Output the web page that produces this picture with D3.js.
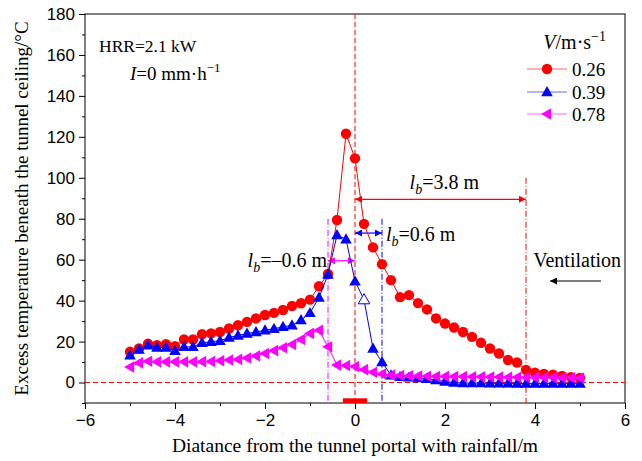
<!DOCTYPE html>
<html>
<head>
<meta charset="utf-8">
<script src="https://cdn.jsdelivr.net/npm/d3@7"></script>
<style>
  body { margin: 0; background: #fff; }
  svg { display: block; }
</style>
</head>
<body>
<svg id="chart"></svg>
<script>
// Distance from the portal (m), shared by all three series
var dist = [-5, -4.8, -4.6, -4.4, -4.2, -4, -3.8, -3.6, -3.4, -3.2, -3, -2.8, -2.6, -2.4, -2.2, -2,
  -1.8, -1.6, -1.4, -1.2, -1, -0.8, -0.6, -0.4, -0.2, 0, 0.2, 0.4, 0.6, 0.8, 1, 1.2, 1.4, 1.6,
  1.8, 2, 2.2, 2.4, 2.6, 2.8, 3, 3.2, 3.4, 3.6, 3.8, 4, 4.2, 4.4, 4.6, 4.8, 5];

// Excess temperature (°C) per ventilation velocity
var v026 = [15, 16.6, 19, 18.2, 18.7, 17.7, 21, 21, 23.6, 24, 24.7, 26.4, 28, 29.6, 31.3, 33,
  34, 35.4, 37.4, 38.7, 40.5, 47, 53, 79.4, 121.5, 109.5, 77.5, 66, 57.8, 50, 41.7, 42.7, 38.8, 35.7,
  31.3, 28.8, 26.9, 24.7, 22.3, 19.4, 16.6, 14.2, 11, 9.8, 6.2, 4.8, 4.2, 3.8, 3.2, 2.6, 2.2];
var v039 = [13.3, 16.1, 18.2, 17.1, 17.1, 15.5, 17.4, 17.4, 19.4, 19.9, 20.4, 22, 23, 23.9, 24.7, 25.5,
  26.3, 27.2, 28, 30.5, 34, 41.5, 52.8, 72, 70, 49.5, 40.5, 16.6, 10, 3.5, 2.8, 2.5, 2.2, 1.8,
  1.2, 0.5, 0, -0.2, -0.3, -0.3, -0.4, -0.4, -0.4, -0.5, -0.5, -0.5, -0.5, -0.5, -0.5, -0.5, -0.5];
var v078 = [7.6, 9.6, 10.4, 10.1, 10.1, 10.1, 10.1, 10.1, 10.2, 10.3, 10.6, 11, 11.3, 12, 13, 14.2,
  15.6, 17, 18.6, 21, 24, 25.5, 17.5, 8.5, 8.3, 7.8, 6.3, 5, 4.2, 3.6, 3.4, 3.3, 3.2, 3.1,
  3, 3, 2.9, 2.9, 2.8, 2.8, 2.7, 2.7, 2.6, 2.6, 2.5, 2.5, 2.4, 2.4, 2.3, 2.3, 2.2];
var hollow039 = [0.2];   // open-marker point of the 0.39 series

var legendLabels = ["0.26", "0.39", "0.78"];
var xTicks = [-6, -4, -2, 0, 2, 4, 6];
var yTicks = [0, 20, 40, 60, 80, 100, 120, 140, 160, 180];

// Backflow length lines: [x, top value]
var lbLines = [[-0.6, 80], [0.6, 80], [3.8, 100]];

var width = 642, height = 461;
var pLeft = 85, pRight = 625, pTop = 14, pBottom = 403;
var serif = "'Liberation Serif', 'Times New Roman', serif";
var sans = "'Liberation Sans', Arial, sans-serif";

var svg = d3.select("#chart").attr("width", width).attr("height", height);

var x = d3.scaleLinear().domain([-6, 6]).range([pLeft, pRight]);
var y = d3.scaleLinear().domain([-10, 180]).range([pBottom, pTop]);

// axes
var xAxis = svg.append("g")
  .attr("transform", "translate(0," + pBottom + ")")
  .call(d3.axisBottom(x).tickValues(xTicks).tickSize(6).tickPadding(5).tickFormat(d3.format("d")));
var xMinor = svg.append("g")
  .attr("transform", "translate(0," + pBottom + ")")
  .call(d3.axisBottom(x).tickValues([-5, -3, -1, 1, 3, 5]).tickSize(3).tickFormat(""));
var yAxis = svg.append("g")
  .attr("transform", "translate(" + pLeft + ",0)")
  .call(d3.axisLeft(y).tickValues(yTicks).tickSize(6).tickPadding(4));
var yMinor = svg.append("g")
  .attr("transform", "translate(" + pLeft + ",0)")
  .call(d3.axisLeft(y).tickValues([-10, 10, 30, 50, 70, 90, 110, 130, 150, 170]).tickSize(3).tickFormat(""));

[xAxis, xMinor, yAxis, yMinor].forEach(function(g) {
  g.select(".domain").remove();
  g.selectAll("line").attr("stroke", "#000").attr("stroke-width", 1);
  g.selectAll("text").attr("fill", "#000").style("font-family", sans).style("font-size", "17px");
});

// frame
svg.append("rect")
  .attr("x", pLeft).attr("y", pTop)
  .attr("width", pRight - pLeft).attr("height", pBottom - pTop)
  .attr("fill", "none").attr("stroke", "#000").attr("stroke-width", 1);

// reference lines
svg.append("line")
  .attr("x1", x(-6)).attr("x2", x(6)).attr("y1", y(0)).attr("y2", y(0))
  .attr("stroke", "#ff0000").attr("stroke-dasharray", "5,3");
svg.append("line")
  .attr("x1", x(0)).attr("x2", x(0)).attr("y1", pTop).attr("y2", pBottom)
  .attr("stroke", "#ff0000").attr("stroke-dasharray", "5,3");

var lbColors = ["#ff00ff", "#0000ff", "#ff0000"];
lbLines.forEach(function(d, i) {
  svg.append("line")
    .attr("x1", x(d[0])).attr("x2", x(d[0])).attr("y1", y(d[1])).attr("y2", pBottom)
    .attr("stroke", lbColors[i]).attr("stroke-dasharray", "6,2,1,2");
});

// fire source bar
svg.append("rect")
  .attr("x", x(-0.27)).attr("width", x(0.27) - x(-0.27))
  .attr("y", y(-7.7)).attr("height", y(-10) - y(-7.7))
  .attr("fill", "#ff0000");

// arrow markers
var defs = svg.append("defs");
lbColors.concat(["#000"]).forEach(function(c, i) {
  defs.append("marker")
    .attr("id", "ah" + i)
    .attr("viewBox", "0 0 10 10")
    .attr("refX", 10).attr("refY", 5)
    .attr("markerWidth", 10).attr("markerHeight", 7)
    .attr("markerUnits", "userSpaceOnUse")
    .attr("orient", "auto-start-reverse")
    .append("path").attr("d", "M0,0L10,5L0,10z").attr("fill", c);
});

var arrows = [[-0.6, 0, 59.5, 0], [0, 0.6, 73, 1], [0, 3.8, 89.5, 2]];
arrows.forEach(function(a) {
  svg.append("line")
    .attr("x1", x(a[0])).attr("x2", x(a[1])).attr("y1", y(a[2])).attr("y2", y(a[2]))
    .attr("stroke", lbColors[a[3]]).attr("stroke-width", 1.2)
    .attr("marker-start", "url(#ah" + a[3] + ")")
    .attr("marker-end", "url(#ah" + a[3] + ")");
});

// series
var series = [
  {vals: v026, color: "#ff0000", shape: "circle"},
  {vals: v039, color: "#0000ff", shape: "up"},
  {vals: v078, color: "#ff00ff", shape: "left"}
];

function markerPath(shape) {
  if (shape === "up") return "M0,-6L5.8,4.2L-5.8,4.2Z";
  if (shape === "left") return "M-6,0L4.2,-5.8L4.2,5.8Z";
  return null;
}

var line = d3.line()
  .x(function(d) { return x(d[0]); })
  .y(function(d) { return y(d[1]); });

series.forEach(function(s) {
  var pts = dist.map(function(d, i) { return [d, s.vals[i]]; });
  svg.append("path")
    .attr("d", line(pts))
    .attr("fill", "none")
    .attr("stroke", s.color)
    .attr("stroke-width", 1);

  var g = svg.append("g");
  pts.forEach(function(p) {
    var hollow = s.shape === "up" && hollow039.indexOf(p[0]) >= 0;
    if (s.shape === "circle") {
      g.append("circle")
        .attr("cx", x(p[0])).attr("cy", y(p[1])).attr("r", 5.2)
        .attr("fill", s.color);
    } else {
      g.append("path")
        .attr("d", markerPath(s.shape))
        .attr("transform", "translate(" + x(p[0]) + "," + y(p[1]) + ")")
        .attr("fill", hollow ? "#fff" : s.color)
        .attr("stroke", s.color)
        .attr("stroke-width", hollow ? 1 : 0);
    }
  });
});

// legend
var legX = 547, legY = [69, 92, 114];
svg.append("text")
  .attr("x", 606).attr("y", 49)
  .attr("text-anchor", "end")
  .style("font-family", serif).style("font-size", "20px")
  .call(function(t) {
    t.append("tspan").attr("font-style", "italic").text("V");
    t.append("tspan").text("/m·s");
    t.append("tspan").attr("dy", -8).style("font-size", "14px").text("−1");
  });

series.forEach(function(s, i) {
  var gy = legY[i];
  svg.append("line")
    .attr("x1", legX - 20).attr("x2", legX + 20).attr("y1", gy).attr("y2", gy)
    .attr("stroke", s.color).attr("stroke-width", 1.2).attr("opacity", 0.6);
  if (s.shape === "circle") {
    svg.append("circle").attr("cx", legX).attr("cy", gy).attr("r", 5.2).attr("fill", s.color);
  } else {
    svg.append("path").attr("d", markerPath(s.shape))
      .attr("transform", "translate(" + legX + "," + gy + ")")
      .attr("fill", s.color);
  }
  svg.append("text")
    .attr("x", legX + 25).attr("y", gy + 7)
    .style("font-family", serif).style("font-size", "19px")
    .text(legendLabels[i]);
});

// condition labels
svg.append("text")
  .attr("x", 99).attr("y", 52)
  .style("font-family", serif).style("font-size", "17.5px")
  .text("HRR=2.1 kW");
svg.append("text")
  .attr("x", 130).attr("y", 80)
  .style("font-family", serif).style("font-size", "19px")
  .call(function(t) {
    t.append("tspan").attr("font-style", "italic").text("I");
    t.append("tspan").text("=0 mm·h");
    t.append("tspan").attr("dy", -8).style("font-size", "13px").text("−1");
  });

// lb labels
function lbLabel(px, py, value, anchor) {
  svg.append("text")
    .attr("x", px).attr("y", py)
    .attr("text-anchor", anchor)
    .style("font-family", serif).style("font-size", "20px")
    .call(function(t) {
      t.append("tspan").attr("font-style", "italic").text("l");
      t.append("tspan").attr("font-style", "italic").attr("dy", 5).style("font-size", "14px").text("b");
      t.append("tspan").attr("dy", -5).text("=" + value + " m");
    });
}
lbLabel(x(3.8) - 47, y(90) - 9, "3.8", "end");
lbLabel(x(0.6) + 4, y(73) + 8, "0.6", "start");
lbLabel(x(-0.6) - 1, y(59.5) + 6, "–0.6", "end");

// ventilation
svg.append("text")
  .attr("x", 621).attr("y", 267)
  .attr("text-anchor", "end")
  .style("font-family", serif).style("font-size", "20px")
  .text("Ventilation");
svg.append("line")
  .attr("x1", 601).attr("x2", 550).attr("y1", 281).attr("y2", 281)
  .attr("stroke", "#000").attr("stroke-width", 1.2)
  .attr("marker-end", "url(#ah3)");

// axis titles
svg.append("text")
  .attr("x", x(0)).attr("y", 452)
  .attr("text-anchor", "middle")
  .style("font-family", serif).style("font-size", "19.5px")
  .text("Diatance from the tunnel portal with rainfall/m");
svg.append("text")
  .attr("transform", "translate(28," + ((pTop + pBottom) / 2) + ") rotate(-90)")
  .attr("text-anchor", "middle")
  .style("font-family", serif).style("font-size", "19px")
  .text("Excess temperature beneath the tunnel ceiling/°C");
</script>
</body>
</html>
